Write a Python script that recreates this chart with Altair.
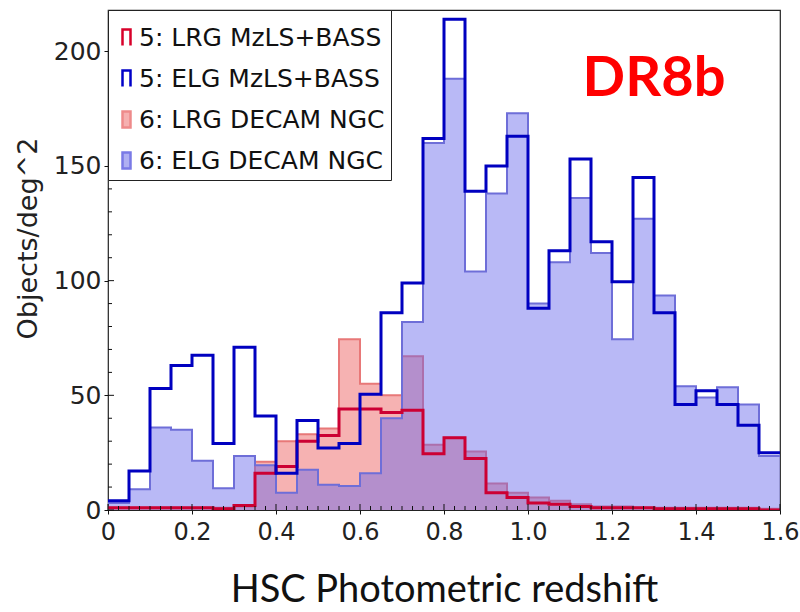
import altair as alt
import numpy as np
import pandas as pd

# Bin edges of the photometric-redshift histograms (width 0.05)
edges = [0.00, 0.05, 0.10, 0.15, 0.20, 0.25, 0.30, 0.35, 0.40, 0.45, 0.50,
         0.55, 0.60, 0.65, 0.70, 0.75, 0.80, 0.85, 0.90, 0.95, 1.00, 1.05,
         1.10, 1.15, 1.20, 1.25, 1.30, 1.35, 1.40, 1.45, 1.50, 1.55, 1.60]

# Objects per deg^2 in each bin
lrg_mzls = [1, 1, 1, 1, 1, 0.5, 2, 16, 19, 30, 32.5, 44, 44, 42.5, 43.5, 24.5,
            31.5, 22.5, 7.5, 5.5, 3, 2.5, 1.5, 1, 1, 1, 0.5, 0.5, 0.5, 0.5, 0.5, 0]
elg_mzls = [4, 17, 53, 63, 67.5, 29, 71, 41, 16, 39, 27, 29, 50.5, 86, 99, 162,
            214, 139, 150, 163, 88, 113, 153, 117, 99.5, 145, 86, 46, 52, 46, 37, 25]
lrg_decam = [1, 1, 1, 1, 1, 1, 1.5, 21, 30, 33, 35.5, 74.5, 55, 50, 67, 28.5,
             31.5, 25.5, 11.5, 7.5, 5.5, 4, 2.5, 1.5, 1.5, 1, 1, 1, 1, 1, 1, 0.5]
elg_decam = [3, 9, 36, 35, 21.5, 9.5, 23.5, 19.5, 7.5, 17.5, 11, 10.5, 16, 40, 82,
             160, 188, 104, 138, 173, 90, 108, 136, 112, 74.5, 127, 93.5, 54, 49,
             53.5, 46, 23.5]

series = ["5: LRG MzLS+BASS", "5: ELG MzLS+BASS", "6: LRG DECAM NGC", "6: ELG DECAM NGC"]

x_major = [0, 0.2, 0.4, 0.6, 0.8, 1.0, 1.2, 1.4, 1.6]
y_major = [0, 50, 100, 150, 200]
x_minor = [round(v, 3) for v in np.arange(0, 1.6001, 0.025) if round(v / 0.2, 3) % 1 != 0]
y_minor = [v for v in range(0, 220, 10) if v % 50 != 0]

W, H = 672, 500


def steps(vals):
    # left edge of every bin plus the closing right edge, for step-after lines
    xs = edges[:-1] + [edges[-1]]
    ys = list(vals) + [vals[-1]]
    return pd.DataFrame({"x": xs, "y": ys})


x_enc = alt.X(
    "x:Q",
    scale=alt.Scale(domain=[0, 1.6], nice=False, zero=False),
    axis=alt.Axis(
        values=x_major,
        labelExpr="datum.value == 0 ? '0' : format(datum.value, '.1f')",
        labelFlush=False,
        title="HSC Photometric redshift",
        titleFont="Lato",
        titleFontSize=38,
        titleFontWeight="normal",
        titleColor="#111111",
        titleX=W / 2,
        titleY=80,
        titleBaseline="middle",
        labelFont="DejaVu Sans",
        labelFontSize=24,
        labelColor="#222222",
        labelPadding=6,
        tickSize=4,
    ),
)
y_enc = alt.Y(
    "y:Q",
    scale=alt.Scale(domain=[0, 218], nice=False, zero=True),
    axis=alt.Axis(
        values=y_major,
        title="Objects/deg^2",
        titleFont="DejaVu Sans",
        titleFontSize=27,
        titleFontWeight="normal",
        titleColor="#222222",
        titleX=-80,
        titleY=228,
        titleBaseline="middle",
        labelFont="DejaVu Sans",
        labelFontSize=25,
        labelColor="#222222",
        labelPadding=3,
        tickSize=4,
    ),
)

# Shaded DECAM histograms: pink underneath, translucent blue on top
fill_lrg = alt.Chart(steps(lrg_decam)).mark_area(
    interpolate="step-after", color="#f6b2b2", clip=True
).encode(x=x_enc, y=y_enc)
edge_lrg6 = alt.Chart(steps(lrg_decam)).mark_line(
    interpolate="step-after", color="#e87878", strokeWidth=2, clip=True
).encode(x="x:Q", y="y:Q")
fill_elg = alt.Chart(steps(elg_decam)).mark_area(
    interpolate="step-after", color="#6464eb", fillOpacity=0.45, clip=True
).encode(x="x:Q", y="y:Q")
edge_elg6 = alt.Chart(steps(elg_decam)).mark_line(
    interpolate="step-after", color="#6e6ed8", strokeWidth=2, clip=True
).encode(x="x:Q", y="y:Q")

# Outlined MzLS+BASS histograms
line_lrg5 = alt.Chart(steps(lrg_mzls)).mark_line(
    interpolate="step-after", color="#cc0033", strokeWidth=3, clip=True
).encode(x="x:Q", y="y:Q")
line_elg5 = alt.Chart(steps(elg_mzls)).mark_line(
    interpolate="step-after", color="#0000c0", strokeWidth=3, clip=True
).encode(x="x:Q", y="y:Q")

# Inward frame ticks
bottom_major = alt.Chart(pd.DataFrame({"v": x_major})).mark_rule(color="#111111").encode(
    x="v:Q", y=alt.value(H), y2=alt.value(H - 6))
bottom_minor = alt.Chart(pd.DataFrame({"v": x_minor})).mark_rule(color="#111111").encode(
    x="v:Q", y=alt.value(H), y2=alt.value(H - 4))
left_major = alt.Chart(pd.DataFrame({"v": y_major})).mark_rule(color="#111111").encode(
    y="v:Q", x=alt.value(0), x2=alt.value(6))
left_minor = alt.Chart(pd.DataFrame({"v": y_minor})).mark_rule(color="#111111").encode(
    y="v:Q", x=alt.value(0), x2=alt.value(4))

# Legend entries: open brackets for the outlined series, filled boxes for the shaded ones
bracket = "M-0.5,1V-1H0.5V1"
box = "M-0.5,1V-1H0.5V1Z"
legend_df = pd.DataFrame({"x": [-1.0] * 4, "y": [0.0] * 4, "series": series})
leg = alt.Legend(title=" ", titleFontSize=9, titlePadding=0)
legend_layer = alt.Chart(legend_df).mark_point(size=256, opacity=1, strokeWidth=2.5, clip=True).encode(
    x="x:Q",
    y="y:Q",
    shape=alt.Shape("series:N", sort=series,
                    scale=alt.Scale(domain=series, range=[bracket, bracket, box, box]),
                    legend=leg),
    stroke=alt.Stroke("series:N", sort=series,
                      scale=alt.Scale(domain=series, range=["#d8002a", "#0000c8", "#ee8a8a", "#7a7ae6"]),
                      legend=leg),
    fill=alt.Fill("series:N", sort=series,
                  scale=alt.Scale(domain=series, range=["transparent", "transparent", "#f6b0b0", "#b0b0f2"]),
                  legend=leg),
)

label = alt.Chart(pd.DataFrame({"t": ["DR8b"]})).mark_text(
    font="Lato", fontWeight="bold", fontSize=56, color="#ff0000", align="left", baseline="alphabetic"
).encode(x=alt.datum(1.13), y=alt.datum(180.5), text="t:N")

chart = alt.layer(
    fill_lrg, edge_lrg6, fill_elg, edge_elg6, line_lrg5, line_elg5,
    bottom_major, bottom_minor, left_major, left_minor, label, legend_layer,
).properties(
    width=W, height=H,
    autosize=alt.AutoSizeParams(type="none"),
    padding={"left": 108, "top": 10, "right": 20, "bottom": 102},
    background="white",
).configure_view(
    stroke="#222222", strokeWidth=1.2
).configure_axis(
    grid=False, domain=False, tickColor="#111111"
).configure_legend(
    orient="none", legendX=0, legendY=0,
    strokeColor="#222222", fillColor="white", padding=6,
    labelFont="DejaVu Sans", labelFontSize=25, labelColor="#111111", labelLimit=400,
    labelOffset=0, symbolSize=256, symbolStrokeWidth=2.5, rowPadding=14,
)

chart.save("out.html", embed_options={"renderer": "svg", "actions": False})
